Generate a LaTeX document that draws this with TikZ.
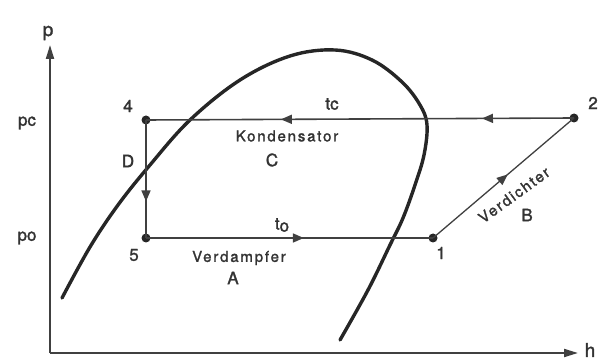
\documentclass[tikz,border=0pt]{standalone}
\usepackage{fontspec}
\setmainfont{TeX Gyre Heros}
\newfontfamily\dinfont[FakeBold=1.6]{TeX Gyre Heros}
\usetikzlibrary{arrows.meta,decorations.markings}
\begin{document}
\begin{tikzpicture}[x=1pt,y=-1pt,
  pt/.style={circle,fill=black!85,inner sep=0pt,minimum size=9pt},
  lbl/.style={font=\dinfont\fontsize{17}{17}\selectfont,text=black!80,inner sep=0pt},
  txt/.style={font=\dinfont\fontsize{15}{15}\selectfont\addfontfeature{LetterSpace=12},text=black!80,inner sep=0pt},
  axis/.style={line width=2pt,draw=black!75,-{Triangle[length=14pt,width=8pt]}},
  cycle/.style={line width=1.6pt,draw=black!75},
  dome/.style={line width=3.4pt,draw=black!85,line cap=round,line join=round},
  midarrow/.style={postaction={decorate},decoration={markings,
     mark=at position #1 with {\arrow{Triangle[length=11pt,width=9pt]}}}},
  twoarrows/.style={postaction={decorate},decoration={markings,
     mark=at position 0.215 with {\arrow{Triangle[length=11pt,width=9pt]}},
     mark=at position 0.685 with {\arrow{Triangle[length=11pt,width=9pt]}}}}
]
\useasboundingbox (0,0) rectangle (605,363);
% axes
\coordinate (o) at (50,353);
\coordinate (ytop) at (50,45);
\coordinate (xend) at (578,353);
\draw[axis] (o) -- (ytop);
\draw[axis] (o) -- (xend);
\node[lbl,font=\dinfont\fontsize{19}{19}\selectfont] (p) at (48,33) {p};
\node[lbl,font=\dinfont\fontsize{19}{19}\selectfont] (h) at (590,350) {h};
\node[lbl] (pc) at (27,123) {pc};
\node[lbl] (po) at (27,238) {po};
% dome
\draw[dome] plot[smooth,tension=0.6] coordinates {(62,298) (90,247) (118,205) (150,165) (190,120) (240,80) (290,56) (335,50) (372,60) (402,82) (420,105) (427,125) (424,155) (415,185) (403,218) (390,245) (368,290) (340,340)};
% state points
\node[pt] (n4) at (146,120) {};
\node[pt] (n2) at (574,118) {};
\node[pt] (n5) at (146,238) {};
\node[pt] (n1) at (433,238) {};
\draw[cycle,twoarrows] (n2.center) -- (n4.center);
\draw[cycle,midarrow=0.69] (n4.center) -- (n5.center);
\draw[cycle,midarrow=0.55] (n5.center) -- (n1.center);
\draw[cycle,line width=1.3pt,midarrow=0.53] (n1.center) -- (n2.center);
% labels
\node[lbl] (l4) at (128,106) {4};
\node[lbl] (l2) at (593,103) {2};
\node[lbl] (l5) at (134,255) {5};
\node[lbl] (l1) at (441,253) {1};
\node[lbl] (lD) at (128,161) {D};
\node[lbl] (tc) at (332,104) {tc};
\node[txt] (kond) at (287,136) {Kondensator};
\node[lbl] (lC) at (272,160) {C};
\node[lbl] (to) at (282,225) {t\raisebox{-2pt}{o}};
\node[txt] (verd) at (239,258) {Verdampfer};
\node[lbl] (lA) at (233,278) {A};
\node[txt,rotate=36] (verdi) at (514,195) {Verdichter};
\node[lbl] (lB) at (527,215) {B};
\end{tikzpicture}
\end{document}
